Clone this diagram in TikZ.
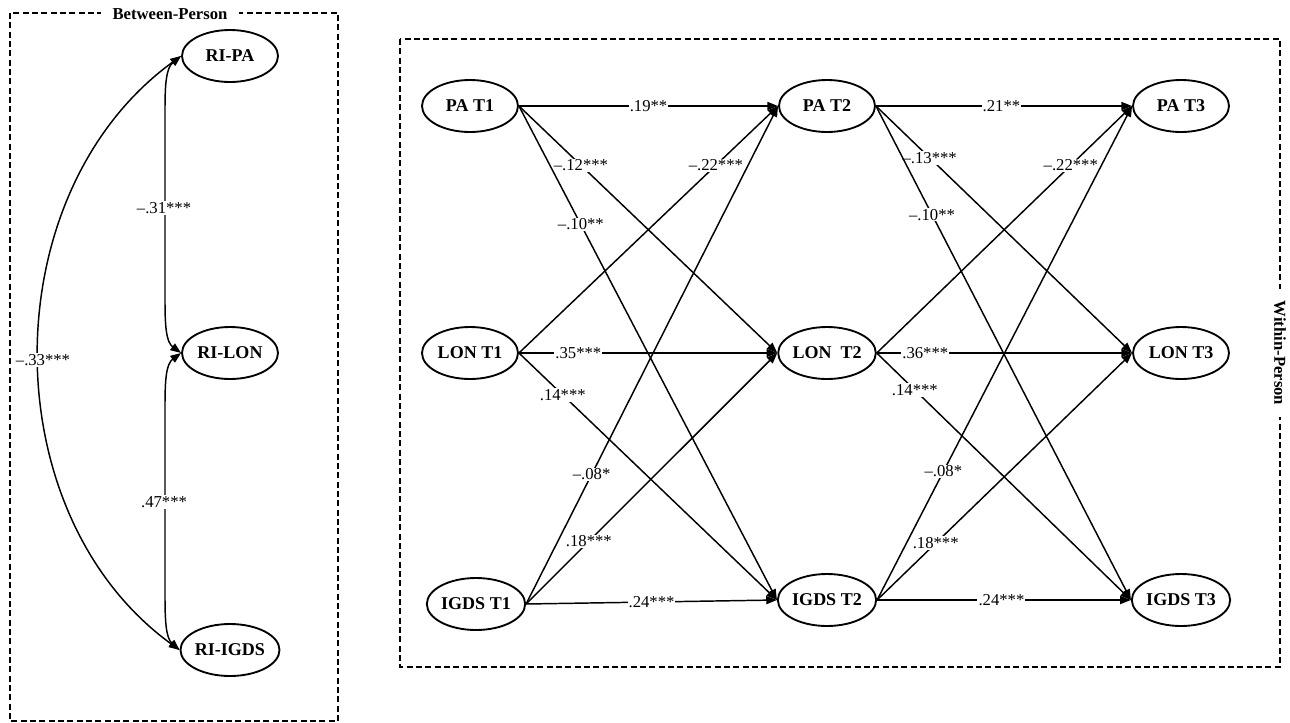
\documentclass[tikz,border=0pt]{standalone}
\usepackage{fontspec}
\setmainfont{Liberation Serif}
\usetikzlibrary{arrows.meta,shapes.geometric}
\begin{document}
\begin{tikzpicture}[x=0.75pt,y=-0.75pt,
  latent/.style={draw, line width=1.4pt, ellipse, minimum width=72pt, minimum height=39pt, inner sep=0pt, font=\bfseries\fontsize{13.5}{15}\selectfont},
  lbl/.style={fill=white, inner sep=0.8pt, font=\fontsize{12.5}{14}\selectfont},
  reg/.style={-{Triangle[length=8pt,width=6pt]}, line width=1.1pt},
  cov/.style={{Triangle[length=8pt,width=6pt]}-{Triangle[length=8pt,width=6pt]}, line width=1.1pt},
  panel/.style={line width=1pt, dash pattern=on 4.5pt off 2.5pt},
  title/.style={fill=white, inner xsep=9pt, inner ysep=2pt, font=\bfseries\fontsize{12.5}{14}\selectfont}]
\useasboundingbox (0,0) rectangle (1290,722);

% ---------- Between-person panel ----------
\draw[panel] (10,13) rectangle (338,721);
\node[title] (tb) at (170,14) {Between-Person};

\node[latent] (ripa)  at (230,56)  {RI-PA};
\node[latent] (rilon) at (230,353) {RI-LON};
\node[latent] (riigds) at (230,650) {RI-IGDS};

\draw[cov] (ripa.west) .. controls (166,68) and (165,85) .. (165,110) -- (165,300) .. controls (165,325) and (166,342) .. (rilon.west);
\draw[cov] (rilon.west) .. controls (166,364) and (165,381) .. (165,406) -- (165,596) .. controls (165,621) and (166,638) .. (riigds.west);
\draw[cov] (ripa.west) to[out=-144, in=144, looseness=1] (riigds.west);

\node[lbl] (l31) at (164,208) {–.31***};
\node[lbl] (l47) at (164,502) {.47***};
\node[lbl] (l33) at (43,360) {–.33***};

% ---------- Within-person panel ----------
\draw[panel] (400,39) rectangle (1280,667);
\node[title, rotate=-90] (tw) at (1280,353) {Within-Person};

\node[latent] (pa1)  at (470,106) {PA T1};
\node[latent] (lon1) at (470,353) {LON T1};
\node[latent] (ig1)  at (476,604) {IGDS T1};
\node[latent] (pa2)  at (827,106) {PA T2};
\node[latent] (lon2) at (827,353) {LON\ \ T2};
\node[latent] (ig2)  at (827,600) {IGDS T2};
\node[latent] (pa3)  at (1181,106) {PA T3};
\node[latent] (lon3) at (1181,353) {LON T3};
\node[latent] (ig3)  at (1181,600) {IGDS T3};

% T1 -> T2
\draw[reg] (pa1.east) -- node[lbl, pos=0.5] {.19**} (pa2.west);
\draw[reg] (pa1.east) -- node[lbl, pos=0.24] {–.12***} (lon2.west);
\draw[reg] (pa1.east) -- node[lbl, pos=0.24] {–.10**} (ig2.west);
\draw[reg] (lon1.east) -- node[lbl, pos=0.76] {–.22***} (pa2.west);
\draw[reg] (lon1.east) -- node[lbl, pos=0.23] {.35***} (lon2.west);
\draw[reg] (lon1.east) -- node[lbl, pos=0.17] {.14***} (ig2.west);
\draw[reg] (ig1.east) -- node[lbl, pos=0.26] {–.08*} (pa2.west);
\draw[reg] (ig1.east) -- node[lbl, pos=0.25] {.18***} (lon2.west);
\draw[reg] (ig1.east) -- node[lbl, pos=0.5] {.24***} (ig2.west);

% T2 -> T3
\draw[reg] (pa2.east) -- node[lbl, pos=0.49] {.21**} (pa3.west);
\draw[reg] (pa2.east) -- node[lbl, pos=0.21] {–.13***} (lon3.west);
\draw[reg] (pa2.east) -- node[lbl, pos=0.22] {–.10**} (ig3.west);
\draw[reg] (lon2.east) -- node[lbl, pos=0.76] {–.22***} (pa3.west);
\draw[reg] (lon2.east) -- node[lbl, pos=0.19] {.36***} (lon3.west);
\draw[reg] (lon2.east) -- node[lbl, pos=0.15] {.14***} (ig3.west);
\draw[reg] (ig2.east) -- node[lbl, pos=0.26] {–.08*} (pa3.west);
\draw[reg] (ig2.east) -- node[lbl, pos=0.23] {.18***} (lon3.west);
\draw[reg] (ig2.east) -- node[lbl, pos=0.49] {.24***} (ig3.west);
\end{tikzpicture}
\end{document}
